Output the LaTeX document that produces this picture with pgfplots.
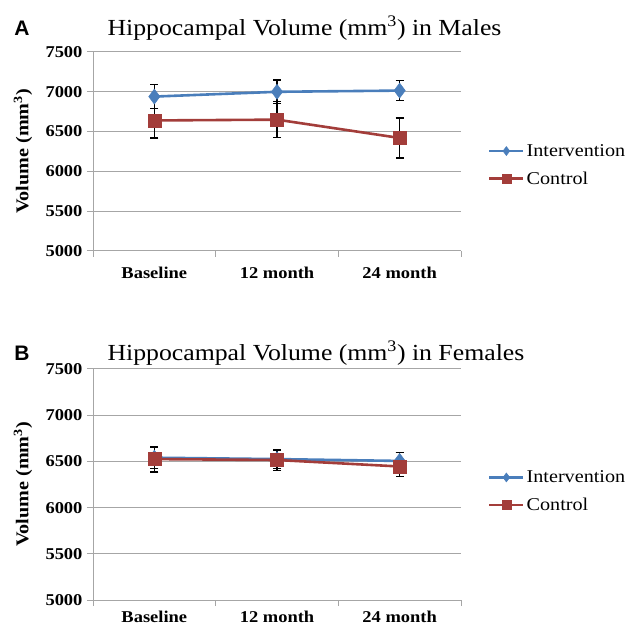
\documentclass[border=0pt]{standalone}
\usepackage{pgfplots}
\pgfplotsset{compat=1.18}
\usepackage{pgfplotstable}
\usepackage{fontspec}
\setmainfont{Liberation Serif}[FakeStretch=1.12]
\newfontfamily\sansbold{Liberation Sans}
\definecolor{intblue}{HTML}{4A7EBB}
\definecolor{ctrlred}{HTML}{A33D3A}
\definecolor{gridgray}{HTML}{A6A6A6}

\pgfplotstableread{
x y ep em
0 6940 150 150
1 7000 150 150
2 7015 125 125
}\maleint
\pgfplotstableread{
x y ep em
0 6640 150 220
1 6650 225 225
2 6420 250 250
}\malectrl
\pgfplotstableread{
x y ep em
0 6540 120 120
1 6525 100 100
2 6505 95 95
}\femint
\pgfplotstableread{
x y ep em
0 6525 130 140
1 6515 105 115
2 6445 150 110
}\femctrl

\pgfplotsset{
  panel/.style={
    scale only axis, width=368bp, anchor=south west,
    xmin=-0.5, xmax=2.5, ymin=5000, ymax=7500,
    ytick={5000,5500,...,7500},
    xtick={-0.5,0.5,1.5,2.5}, xticklabels={},
    extra x ticks={0,1,2},
    extra x tick labels={Baseline,12 month,24 month},
    extra x tick style={major tick length=0pt, grid=none},
    axis x line*=bottom, axis y line*=left,
    axis line style={gridgray, line width=1bp, -},
    ymajorgrids, grid style={gridgray, line width=1bp},
    tick style={gridgray, line width=1bp},
    major tick length=6bp, tick align=outside,
    xtick pos=bottom, ytick pos=left,
    /pgf/number format/assume math mode=true,
    /pgf/number format/1000 sep={},
    tick label style={font=\fontsize{16.5bp}{18bp}\selectfont\bfseries, text=black},
    xticklabel style={yshift=-13bp},
    yticklabel style={xshift=-1bp},
    ylabel={\bfseries Volume (mm\textsuperscript{3})},
    ylabel style={at={(axis description cs:-0.19,0.5)}, anchor=center, font=\fontsize{18bp}{20bp}\selectfont},
    legend style={at={(axis description cs:1.073,0.432)}, anchor=west, draw=none, fill=none,
      font=\fontsize{18bp}{20bp}\selectfont, row sep=10bp, inner sep=0pt,
      legend cell align=left},
    legend image code/.code={\draw[mark repeat=2,mark phase=2,mark size=4.5bp] plot coordinates {(0bp,0bp)(17bp,0bp)(34bp,0bp)};},
  },
  intstyle/.style={intblue, line width=2.6bp, mark=diamond*, mark size=7.5bp,
    mark options={fill=intblue, draw=intblue, line width=0.5bp},
    error bars/.cd, y dir=both, y explicit,
    error bar style={black, line width=1.3bp},
    error mark options={black, rotate=90, mark size=4bp, line width=1.3bp}},
  ctrlstyle/.style={ctrlred, line width=2.6bp, mark=square*, mark size=6.5bp,
    mark options={fill=ctrlred, draw=ctrlred, line width=0.5bp},
    error bars/.cd, y dir=both, y explicit,
    error bar style={black, line width=1.3bp},
    error mark options={black, rotate=90, mark size=4bp, line width=1.3bp}},
}

\begin{document}
\begin{tikzpicture}
\path[use as bounding box] (0,0) rectangle (639bp,630bp);

\node[anchor=center, font=\sansbold\bfseries\fontsize{21bp}{24bp}\selectfont] at (22bp,602bp) {A};
\node[anchor=west, font=\fontsize{23bp}{26bp}\selectfont] at (104bp,602bp) {Hippocampal Volume (mm\textsuperscript{3}) in Males};
\node[anchor=center, font=\sansbold\bfseries\fontsize{21bp}{24bp}\selectfont] at (22bp,277bp) {B};
\node[anchor=west, font=\fontsize{23bp}{26bp}\selectfont] at (104bp,277bp) {Hippocampal Volume (mm\textsuperscript{3}) in Females};

\begin{axis}[panel, height=199bp, at={(93bp,379bp)}]
\addplot[intstyle] table[x=x, y=y, y error plus=ep, y error minus=em] {\maleint};
\addlegendentry{Intervention}
\addplot[ctrlstyle] table[x=x, y=y, y error plus=ep, y error minus=em] {\malectrl};
\addlegendentry{Control}
\end{axis}

\begin{axis}[panel, height=231bp, at={(93bp,30bp)}, xticklabel style={yshift=3bp, inner sep=1bp}, legend style={at={(axis description cs:1.073,0.47)}}]
\addplot[intstyle] table[x=x, y=y, y error plus=ep, y error minus=em] {\femint};
\addlegendentry{Intervention}
\addplot[ctrlstyle] table[x=x, y=y, y error plus=ep, y error minus=em] {\femctrl};
\addlegendentry{Control}
\end{axis}
\end{tikzpicture}
\end{document}
